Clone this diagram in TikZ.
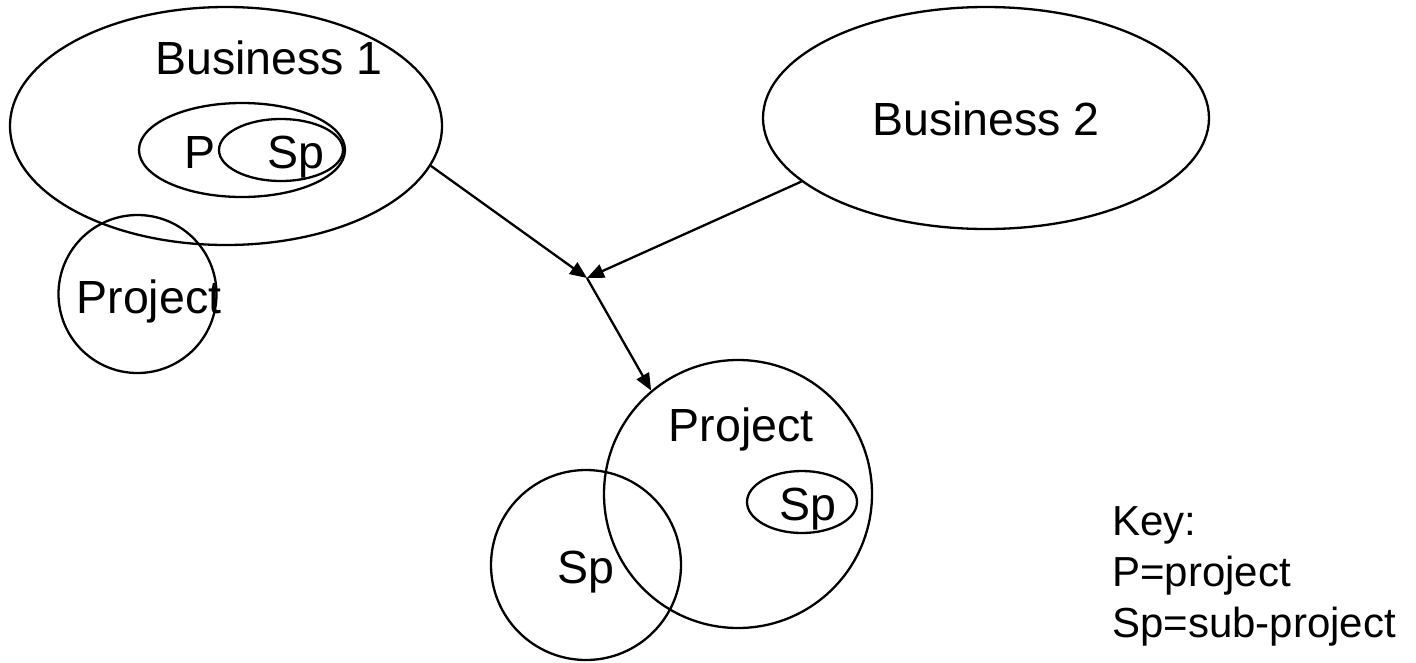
\documentclass[tikz,border=0pt]{standalone}
\usepackage{fontspec}
\setmainfont{Liberation Sans}
\usetikzlibrary{shapes.geometric,arrows.meta}

\tikzset{
  blob/.style={draw,ellipse,line width=2.3pt,inner sep=0pt},
  ring/.style={draw,circle,line width=2.3pt,inner sep=0pt},
  lbl/.style={anchor=base,inner sep=0pt,font=\fontsize{46.5}{56}\selectfont},
  keytxt/.style={anchor=base west,inner sep=0pt,font=\fontsize{42}{50}\selectfont},
  link/.style={line width=2.3pt,-{Triangle[length=17pt,width=14pt]}},
}

\begin{document}
\begin{tikzpicture}[x=1pt,y=-1pt]
  \useasboundingbox (0,0) rectangle (1416,662);
  \node [blob,minimum width=432pt,minimum height=238pt] (bus1) at (226,126) {};
  \node [blob,minimum width=206pt,minimum height=94pt] (p1) at (242,150) {};
  \node [blob,minimum width=124pt,minimum height=62pt] (sp1) at (281,150) {};
  \node [ring,minimum size=158pt] (proj1) at (137.5,294) {};
  \node [blob,minimum width=446pt,minimum height=222pt] (bus2) at (986,118) {};
  \node [ring,minimum size=268pt] (proj2) at (738,494) {};
  \node [blob,minimum width=110pt,minimum height=62pt] (sp2) at (802,502) {};
  \node [ring,minimum size=190pt] (sp3) at (586,565) {};

  \node [lbl] (bus1txt) at (269,74) {Business 1};
  \node [lbl] (ptxt) at (200,168) {P};
  \node [lbl] (sp1txt) at (296,168) {Sp};
  \node [lbl] (proj1txt) at (149,313) {Project};
  \node [lbl] (bus2txt) at (986,135) {Business 2};
  \node [lbl] (proj2txt) at (741,441) {Project};
  \node [lbl] (sp2txt) at (808,520) {Sp};
  \node [lbl] (sp3txt) at (586,583) {Sp};

  \node [keytxt] (key) at (1112,535) {Key:};
  \node [keytxt] (keyp) at (1112,586) {P=project};
  \node [keytxt] (keysp) at (1112,637) {Sp=sub-project};

  \coordinate (J) at (587,278);
  \draw [link] (bus1.-11.6) -- (J);
  \draw [link] (bus2.-161.7) -- (J);
  \draw [link] (J) -- (proj2.130);
\end{tikzpicture}
\end{document}
